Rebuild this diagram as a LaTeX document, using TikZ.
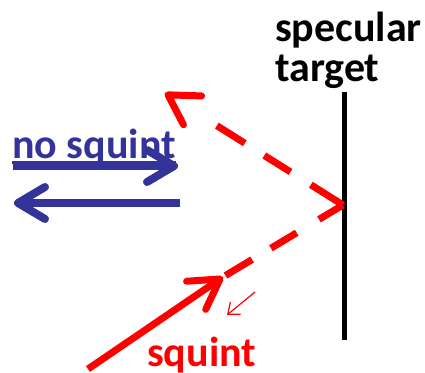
\documentclass[tikz,border=0pt]{standalone}
\usepackage{fontspec}
\setmainfont{Carlito}
\usetikzlibrary{arrows.meta}
\definecolor{nsblue}{RGB}{51,51,153}
\definecolor{sqred}{RGB}{255,0,0}
\newcommand\thickul[1]{\setbox0\hbox{#1}\rlap{\rule[-6pt]{\wd0}{3pt}}\box0}
\begin{document}
\begin{tikzpicture}[x=1pt,y=-1pt,
  lbl/.style={font=\fontsize{42}{40}\selectfont\bfseries, inner sep=0pt},
  mirror/.style={line width=5pt, black},
  beam/.style={line width=7pt, sqred},
  bluearrow/.style={line width=8pt, nsblue, -{Straight Barb[round,length=27pt,width=32pt]}},
  redtip/.style={-{Straight Barb[round,length=29pt,width=34pt]}},
  smallarrow/.style={line width=1.2pt, sqred, -{Straight Barb[length=10pt,width=16pt]}}
]
\useasboundingbox (0,0) rectangle (425,372);

% labels
\node[lbl, anchor=north west, align=left] (spec) at (275,12) {specular\\target};
\node[lbl, nsblue, anchor=base west] (nosq) at (12,158) {\thickul{no squint}};
\node[lbl, sqred, anchor=base west] (sq) at (147,366) {squint};

% mirror
\coordinate (mtop) at (344.5,92);
\coordinate (mbot) at (344.5,340);
\draw[mirror] (mtop) -- (mbot);

% beams
\coordinate (refl) at (343,205);
\coordinate (rettip) at (165,93);
\coordinate (junc) at (223,277);
\coordinate (src) at (88,369);
\draw[beam, redtip, dash pattern=on 38pt off 24pt on 31pt off 23pt on 33pt off 80pt] (refl) -- (rettip);
\draw[beam, dash pattern=on 28pt off 26pt on 30pt off 22pt on 31pt off 20pt] (refl) -- (junc);
\draw[beam, redtip] (src) -- (junc);

% small arrow
\coordinate (sa1) at (255,292);
\coordinate (sa2) at (227,315);
\draw[smallarrow] (sa1) -- (sa2);

% blue arrows
\coordinate (b1s) at (13,166);
\coordinate (b1e) at (178,166);
\coordinate (b2s) at (180,203);
\coordinate (b2e) at (14,203);
\draw[bluearrow] (b1s) -- (b1e);
\draw[bluearrow] (b2s) -- (b2e);
\end{tikzpicture}
\end{document}
